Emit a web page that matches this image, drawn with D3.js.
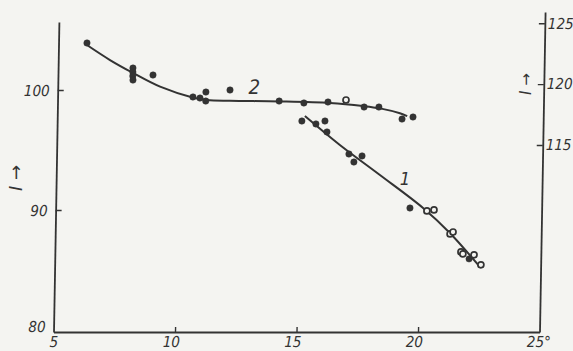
<!DOCTYPE html>
<html>
<head>
<meta charset="utf-8">
<script src="https://cdn.jsdelivr.net/npm/d3@7"></script>
<style>
  html, body { margin: 0; padding: 0; background: #f4f4f1; }
  svg { display: block; }
  .tk text { font-family: "Liberation Sans Narrow", "DejaVu Sans Condensed", sans-serif; font-style: italic; font-size: 15px; fill: #333; }
</style>
</head>
<body>
<svg id="chart" width="573" height="351"></svg>
<script>
// ---- data ----
const xTicks = [5, 10, 15, 20, 25];
const leftTicks = [80, 90, 100];
const rightTicks = [115, 120, 125];

// curve 2 (left axis I)
const s2x = [6.17, 8.08, 8.08, 8.08, 8.09, 8.91, 10.57, 10.86, 11.10, 11.10, 12.09, 14.12, 15.14, 16.13, 16.87, 17.62, 18.23, 19.19, 19.64];
const s2y = [103.92, 101.83, 101.5, 101.17, 100.83, 101.25, 99.42, 99.33, 99.83, 99.08, 100.0, 99.08, 98.92, 99.0, 99.17, 98.58, 98.58, 97.58, 97.75];
const s2open = [0,0,0,0,0,0,0,0,0,0,0,0,0,0,1,0,0,0,0];
const c2x = [6.17, 7.13, 8.09, 9.21, 10.59, 11.15, 12.09, 14.12, 16.21, 17.57, 18.28, 19.10, 19.40];
const c2y = [103.75, 102.5, 101.42, 100.28, 99.36, 99.17, 99.1, 99.05, 98.92, 98.67, 98.47, 98.06, 97.83];

// curve 1 (right axis I)
const s1x = [15.07, 15.65, 16.02, 16.11, 17.03, 17.57, 17.24, 19.58, 20.28, 20.57, 21.25, 21.37, 21.71, 21.79, 22.05, 22.25, 22.54];
const s1y = [116.97, 116.73, 116.97, 116.07, 114.26, 114.10, 113.60, 109.82, 109.58, 109.66, 107.69, 107.85, 106.21, 106.05, 105.64, 105.97, 105.15];
const s1open = [0,0,0,0,0,0,0,0,1,1,1,1,1,1,0,1,1];
const c1x = [15.19, 16.65, 18.32, 20.12, 21.24, 22.5];
const c1y = [117.38, 115.0, 112.53, 109.82, 107.77, 104.98];

const curveLabels = [{t: "2", x: 13.09, y: 99.67, axis: "L", size: 20}, {t: "1", x: 19.36, y: 111.71, axis: "R", size: 18}];

// ---- drawing ----
const ink = "#333";
const svg = d3.select("#chart");
const baseY = 332;

const x = d3.scaleLinear().domain([5, 25]).range([53.5, 539.5]);
const yL = d3.scaleLinear().domain([79.83, 105.67]).range([332, 22]);
const yR = d3.scaleLinear().domain([99.63, 125.93]).range([332, 12]);

// slight skew like the scanned original
const g = svg.append("g")
  .attr("transform", `translate(0,${baseY}) skewX(-1) translate(0,${-baseY})`);

// x axis
const gx = g.append("g").attr("class", "tk").attr("transform", `translate(0,${baseY})`)
  .call(d3.axisBottom(x).tickValues(xTicks).tickSize(-5).tickSizeOuter(0).tickPadding(4)
    .tickFormat(d => d === 25 ? "25°" : String(d)));
gx.selectAll(".tick line").attr("stroke", ink).attr("stroke-width", 1.4)
  .attr("display", d => (d === 5 || d === 25) ? "none" : null);
gx.selectAll(".tick text").attr("dx", d => d === 25 ? "-1" : (d === 5 ? "0" : "-4"));
gx.select(".domain").attr("stroke", ink).attr("stroke-width", 1.8);

// left axis
const gl = g.append("g").attr("class", "tk").attr("transform", `translate(${x(5)},0)`)
  .call(d3.axisLeft(yL).tickValues(leftTicks).tickSize(-6).tickSizeOuter(0).tickPadding(8));
gl.selectAll(".tick line").attr("stroke", ink).attr("stroke-width", 1.4)
  .attr("display", d => d === 80 ? "none" : null);
gl.selectAll(".tick text").attr("dy", d => d === 80 ? "0.1em" : "0.35em");
gl.select(".domain").attr("stroke", ink).attr("stroke-width", 1.8);

// right axis
const gr = g.append("g").attr("class", "tk").attr("transform", `translate(${x(25)},0)`)
  .call(d3.axisRight(yR).tickValues(rightTicks).tickSize(-6).tickSizeOuter(0).tickPadding(3));
gr.selectAll(".tick line").attr("stroke", ink).attr("stroke-width", 1.4);
gr.select(".domain").attr("stroke", ink).attr("stroke-width", 1.8);

// curves
const line = (ys) => d3.line().x(d => x(d[0])).y(d => ys(d[1])).curve(d3.curveCatmullRom.alpha(0.5));
g.append("path").datum(c2x.map((v, i) => [v, c2y[i]]))
  .attr("d", line(yL)).attr("fill", "none").attr("stroke", ink).attr("stroke-width", 2);
g.append("path").datum(c1x.map((v, i) => [v, c1y[i]]))
  .attr("d", line(yR)).attr("fill", "none").attr("stroke", ink).attr("stroke-width", 2);

// points
function drawPts(xs, ys, open, scale) {
  g.append("g").selectAll("circle").data(xs.map((v, i) => ({x: v, y: ys[i], o: open[i]})))
    .join("circle")
    .attr("cx", d => x(d.x)).attr("cy", d => scale(d.y))
    .attr("r", d => d.o ? 3 : 3.2)
    .attr("fill", d => d.o ? "#f4f4f1" : ink)
    .attr("stroke", ink).attr("stroke-width", d => d.o ? 1.7 : 0.5);
}
drawPts(s2x, s2y, s2open, yL);
drawPts(s1x, s1y, s1open, yR);

// curve labels
g.selectAll("text.cl").data(curveLabels).join("text").attr("class", "cl")
  .attr("x", d => x(d.x)).attr("y", d => (d.axis === "L" ? yL : yR)(d.y))
  .attr("text-anchor", "middle")
  .attr("font-family", "'Liberation Sans Narrow', 'DejaVu Sans Condensed', sans-serif")
  .attr("font-style", "italic").attr("font-size", d => d.size).attr("fill", ink)
  .text(d => d.t);

// axis titles
svg.append("text").attr("transform", "translate(22,178) rotate(-90)")
  .attr("text-anchor", "middle").attr("font-family", "'DejaVu Sans', sans-serif")
  .attr("font-style", "italic").attr("font-size", 18).attr("fill", ink).text("I  →");
svg.append("text").attr("transform", "translate(531,84) rotate(-90)")
  .attr("text-anchor", "middle").attr("font-family", "'DejaVu Sans', sans-serif")
  .attr("font-style", "italic").attr("font-size", 15).attr("fill", ink).text("I →");
</script>
</body>
</html>
